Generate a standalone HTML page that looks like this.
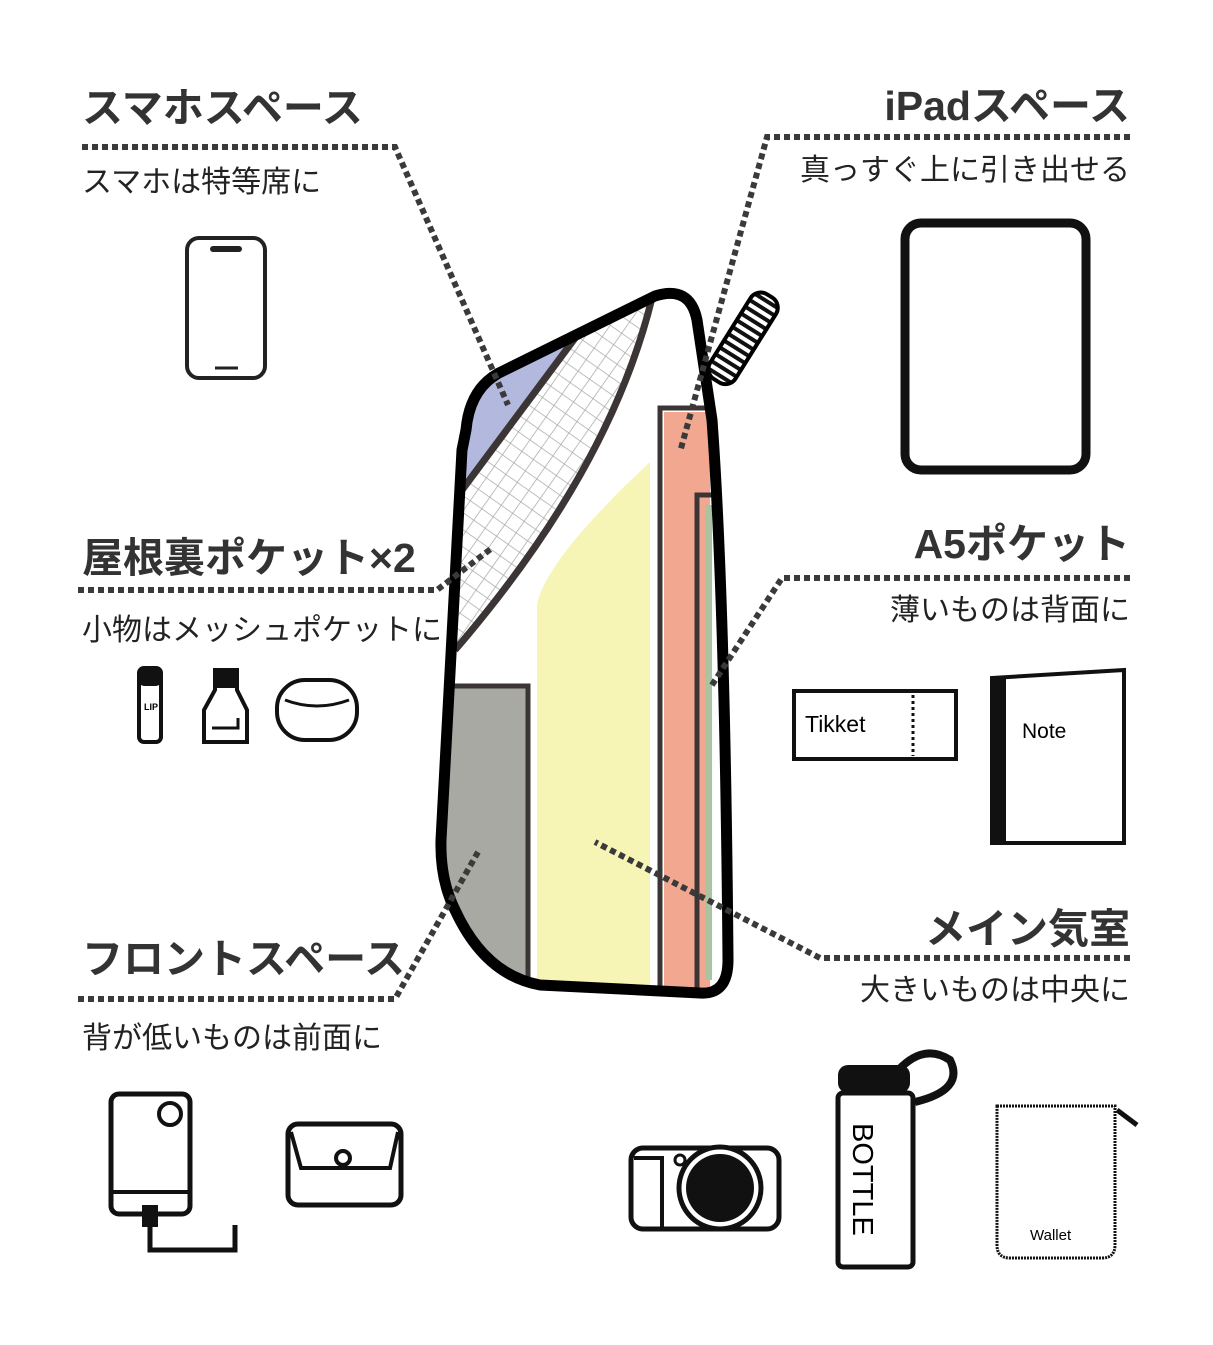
<!DOCTYPE html>
<html><head><meta charset="utf-8"><style>
html,body{margin:0;padding:0;background:#fff}
svg{display:block}
.h{font-family:"Liberation Sans","Noto Sans CJK JP",sans-serif;font-weight:700;font-size:41px;fill:#333}
.s{font-family:"Liberation Sans","Noto Sans CJK JP",sans-serif;font-size:30px;fill:#222}
.d{stroke:#3a3a3a;stroke-width:6;stroke-dasharray:6 4;fill:none}
</style></head><body>
<svg width="1213" height="1345" viewBox="0 0 1213 1345" xmlns="http://www.w3.org/2000/svg">
<defs>
<pattern id="mesh" width="14" height="14" patternUnits="userSpaceOnUse" patternTransform="rotate(35)">
<rect width="14" height="14" fill="#fff"/><path d="M0 0H14M0 0V14" stroke="#aaa" stroke-width="1.5"/></pattern>
<clipPath id="bag"><path d="M466 430 Q470 385 505 370 L655 296 Q690 285 697 320 L712 420 Q725 600 728 960 Q728 995 700 993 L540 985 Q485 975 455 910 Q440 880 441 840 L462 450 Z"/></clipPath>
<pattern id="stripe" width="8" height="8" patternUnits="userSpaceOnUse"><rect width="8" height="8" fill="#fff"/><rect width="8" height="4" fill="#111"/></pattern>
</defs>

<text class="h" x="82" y="122">スマホスペース</text>
<text class="s" x="82" y="192">スマホは特等席に</text>
<text class="h" x="1130" y="120" text-anchor="end">iPadスペース</text>
<text class="s" x="1130" y="180" text-anchor="end">真っすぐ上に引き出せる</text>
<text class="h" x="82" y="572">屋根裏ポケット×2</text>
<text class="s" x="82" y="640">小物はメッシュポケットに</text>
<text class="h" x="1130" y="558" text-anchor="end">A5ポケット</text>
<text class="s" x="1130" y="620" text-anchor="end">薄いものは背面に</text>
<text class="h" x="82" y="973">フロントスペース</text>
<text class="s" x="82" y="1048">背が低いものは前面に</text>
<text class="h" x="1130" y="943" text-anchor="end">メイン気室</text>
<text class="s" x="1130" y="1000" text-anchor="end">大きいものは中央に</text>

<g clip-path="url(#bag)">
<rect x="430" y="280" width="320" height="720" fill="#fff"/>
<path d="M462 490 L590 318 L440 330 Z" fill="#b3b8df"/>
<path d="M462 490 L590 318 L655 296 Q610 470 455 650 Z" fill="url(#mesh)"/>
<path d="M462 490 L590 318" stroke="#3b3535" stroke-width="7" fill="none"/>
<path d="M652 298 Q610 470 455 650" stroke="#3b3535" stroke-width="7" fill="none"/>
<rect x="440" y="686" width="88" height="310" fill="#a9a9a4"/>
<path d="M440 686 H528 V990" stroke="#3b3535" stroke-width="5" fill="none"/>
<path d="M537 990 V605 Q545 560 650 462 V990 Z" fill="#f7f5b5"/>
<rect x="664" y="412" width="46" height="580" fill="#f2a790"/>
<path d="M660 990 V408 H712" stroke="#3b3535" stroke-width="5" fill="none"/>
<path d="M697 990 V495 H716" stroke="#3b3535" stroke-width="5" fill="none"/>
<rect x="705" y="505" width="7" height="475" fill="#a8c4a0"/>
</g>
<path d="M466 430 Q470 385 505 370 L655 296 Q690 285 697 320 L712 420 Q725 600 728 960 Q728 995 700 993 L540 985 Q485 975 455 910 Q440 880 441 840 L462 450 Z" fill="none" stroke="#000" stroke-width="11" stroke-linejoin="round"/>

<g transform="translate(742,340) rotate(32)">
<rect x="-15" y="-52" width="30" height="100" rx="12" fill="url(#stripe)" stroke="#000" stroke-width="4"/>
</g>

<path class="d" d="M82 147 H395 L508 405"/>
<path class="d" d="M1130 137 H767 L680 452"/>
<path class="d" d="M78 590 H437 L492 548"/>
<path class="d" d="M1130 578 H782 L710 688"/>
<path class="d" d="M78 999 H395 L478 852"/>
<path class="d" d="M1130 958 H820 L595 842"/>

<rect x="187" y="238" width="78" height="140" rx="12" fill="#fff" stroke="#222" stroke-width="4"/>
<rect x="210" y="246" width="32" height="6" rx="3" fill="#222"/>
<line x1="215" y1="368" x2="238" y2="368" stroke="#222" stroke-width="3"/>
<rect x="905" y="223" width="181" height="247" rx="16" fill="#fff" stroke="#111" stroke-width="9"/>
<rect x="139" y="668" width="22" height="74" rx="5" fill="#fff" stroke="#111" stroke-width="4"/>
<rect x="139" y="668" width="22" height="18" rx="5" fill="#111"/>
<text x="144" y="710" font-family="Liberation Sans" font-size="9" font-weight="700">LIP</text>
<path d="M215 670 H237 V690 L247 710 V742 H204 V710 L215 690 Z" fill="#fff" stroke="#111" stroke-width="4"/>
<rect x="215" y="670" width="22" height="18" fill="#111"/>
<path d="M212 728 H238 V718" stroke="#111" stroke-width="3" fill="none"/>
<rect x="277" y="680" width="80" height="60" rx="28" fill="#fff" stroke="#111" stroke-width="4"/>
<path d="M285 700 Q317 712 349 700" stroke="#111" stroke-width="3" fill="none"/>
<rect x="794" y="691" width="162" height="68" fill="#fff" stroke="#111" stroke-width="4"/>
<line x1="913" y1="695" x2="913" y2="756" stroke="#111" stroke-width="3" stroke-dasharray="3 3"/>
<text x="805" y="732" font-family="Liberation Sans" font-size="23">Tikket</text>
<path d="M992 678 L1124 670 V843 H992 Z" fill="#fff" stroke="#111" stroke-width="4"/>
<rect x="992" y="678" width="14" height="165" fill="#111"/>
<text x="1022" y="738" font-family="Liberation Sans" font-size="21">Note</text>
<rect x="111" y="1094" width="79" height="120" rx="8" fill="#fff" stroke="#111" stroke-width="5"/>
<circle cx="170" cy="1114" r="11" fill="none" stroke="#111" stroke-width="4"/>
<line x1="111" y1="1192" x2="190" y2="1192" stroke="#111" stroke-width="4"/>
<rect x="142" y="1205" width="16" height="22" fill="#111"/>
<path d="M150 1225 V1250 H235 V1225" stroke="#111" stroke-width="5" fill="none"/>
<rect x="288" y="1124" width="113" height="81" rx="10" fill="#fff" stroke="#111" stroke-width="5"/>
<path d="M291 1132 L301 1168 H390 L398 1132" stroke="#111" stroke-width="4" fill="none"/>
<circle cx="343" cy="1158" r="7" fill="#fff" stroke="#111" stroke-width="4"/>
<rect x="631" y="1148" width="148" height="81" rx="12" fill="#fff" stroke="#111" stroke-width="5"/>
<path d="M634 1158 H662 V1229" stroke="#111" stroke-width="4" fill="none"/>
<circle cx="720" cy="1188" r="41" fill="#fff" stroke="#111" stroke-width="5"/>
<circle cx="720" cy="1188" r="34" fill="#111"/>
<circle cx="680" cy="1160" r="5" fill="#fff" stroke="#111" stroke-width="3"/>
<path d="M890 1080 Q920 1040 950 1060 Q965 1090 915 1102" stroke="#111" stroke-width="8" fill="none"/>
<rect x="838" y="1065" width="72" height="28" rx="10" fill="#111"/>
<rect x="838" y="1093" width="75" height="174" rx="5" fill="#fff" stroke="#111" stroke-width="5"/>
<text x="0" y="0" transform="translate(853,1123) rotate(90)" font-family="Liberation Sans" font-size="29">BOTTLE</text>
<path d="M997 1106 H1115 V1245 Q1115 1258 1102 1258 H1010 Q997 1258 997 1245 Z" fill="#fff" stroke="#111" stroke-width="3" stroke-dasharray="2 1"/>
<line x1="1117" y1="1110" x2="1137" y2="1125" stroke="#111" stroke-width="5"/>
<text x="1030" y="1240" font-family="Liberation Sans" font-size="15">Wallet</text>
</svg>
</body></html>
